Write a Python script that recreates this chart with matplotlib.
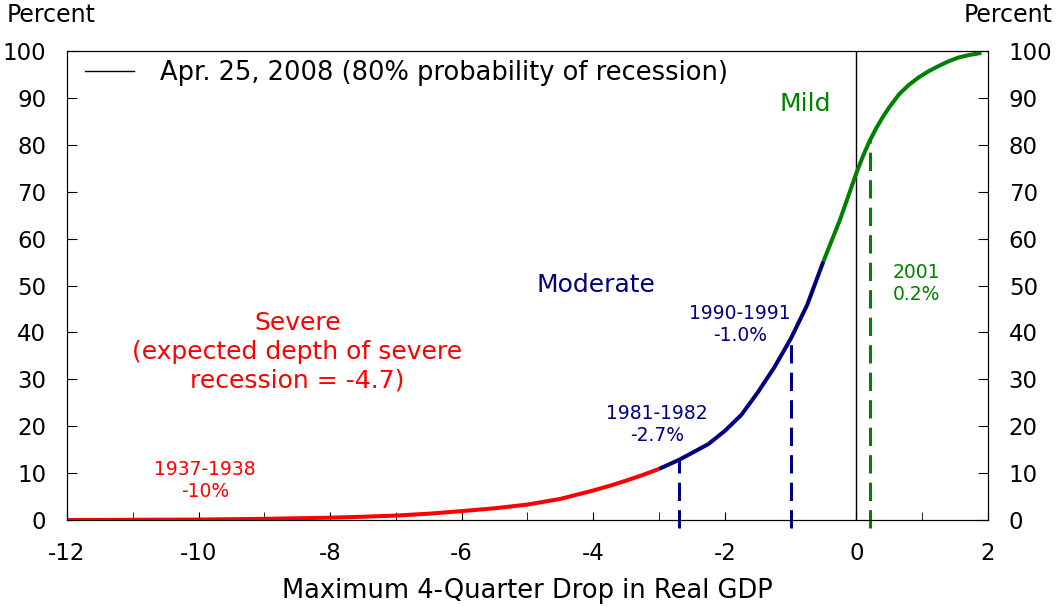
import matplotlib
matplotlib.use('Agg')
import matplotlib.pyplot as plt

plt.rcParams['font.family'] = ['DejaVu Sans']
plt.rcParams['axes.unicode_minus'] = False

# curva de probabilidade acumulada
queda = [-12, -11, -10, -9, -8, -7.5, -7, -6.5, -6, -5.5, -5, -4.5, -4, -3.75, -3.5,
         -3.25, -3, -2.7, -2.5, -2.25, -2, -1.75, -1.5, -1.25, -1, -0.75, -0.5,
         -0.25, -0.1, 0, 0.1, 0.2, 0.3, 0.4, 0.5, 0.65, 0.8, 0.95, 1.1, 1.25,
         1.4, 1.55, 1.7, 1.9]
prob = [0.0, 0.05, 0.1, 0.25, 0.5, 0.7, 0.95, 1.35, 1.9, 2.5, 3.3, 4.5, 6.3, 7.3, 8.4,
        9.6, 10.9, 12.8, 14.3, 16.2, 19.0, 22.4, 27.2, 32.5, 38.6, 45.8, 55.2,
        64.0, 70.0, 74.0, 77.6, 80.8, 83.5, 85.9, 88.0, 90.8, 92.8, 94.4, 95.7, 96.8,
        97.8, 98.6, 99.1, 99.6]

# limites das faixas: severa ate -3, moderada ate -0.5, leve depois
LIMITE_SEVERA = -3.0
LIMITE_MODERADA = -0.5

VERMELHO = '#ff0000'
AZUL = '#000080'
VERDE = '#008000'

# recessoes historicas
eventos_x = [-2.7, -1.0, 0.2]
eventos_y = [12.8, 38.6, 80.8]
eventos_cor = [AZUL, AZUL, VERDE]

fig = plt.figure(figsize=(10.57, 6.07), dpi=100)
ax = fig.add_axes([0.0634, 0.1433, 0.8713, 0.7727])

sev = [(x, y) for x, y in zip(queda, prob) if x <= LIMITE_SEVERA]
mod = [(x, y) for x, y in zip(queda, prob) if LIMITE_SEVERA <= x <= LIMITE_MODERADA]
lev = [(x, y) for x, y in zip(queda, prob) if x >= LIMITE_MODERADA]
for trecho, cor in [(sev, VERMELHO), (mod, AZUL), (lev, VERDE)]:
    ax.plot([p[0] for p in trecho], [p[1] for p in trecho], color=cor,
            linewidth=2.9, solid_capstyle='butt', solid_joinstyle='round', zorder=4)

ax.plot([0, 0], [0, 100], color='black', linewidth=1.0,
        label='Apr. 25, 2008 (80% probability of recession)', zorder=3)

for x, y, c in zip(eventos_x, eventos_y, eventos_cor):
    ax.plot([x, x], [-1.6, y], color=c, linewidth=2.2, linestyle=(0, (6, 3)),
            clip_on=False, zorder=3)

ax.set_xlim(-12, 2)
ax.set_ylim(0, 100)
ax.set_xticks(range(-12, 3, 2))
ax.set_xticks(range(-12, 3), minor=True)
ax.set_yticks(range(0, 101, 10))
ax.tick_params(axis='both', which='both', direction='in', labelsize=16.5)
ax.tick_params(axis='x', which='minor', length=6)
ax.tick_params(axis='x', which='major', length=6, pad=16)
ax.tick_params(axis='y', length=7, pad=15)
ax.set_xlabel('Maximum 4-Quarter Drop in Real GDP', fontsize=18.5, labelpad=9)

ax2 = ax.twinx()
ax2.set_ylim(0, 100)
ax2.set_yticks(range(0, 101, 10))
ax2.tick_params(axis='y', direction='in', labelsize=16.5, length=7, pad=15)

fig.text(0.006, 0.976, 'Percent', fontsize=17, va='center', ha='left')
fig.text(0.996, 0.976, 'Percent', fontsize=17, va='center', ha='right')

ax.legend(loc='upper left', frameon=False, fontsize=18.5, handlelength=1.9,
          handletextpad=1.0, borderaxespad=0.3, bbox_to_anchor=(0.0, 1.02))

# rotulos das faixas
ax.text(-0.78, 88.7, 'Mild', color=VERDE, fontsize=18, ha='center', va='center')
ax.text(-3.96, 50.1, 'Moderate', color=AZUL, fontsize=18, ha='center', va='center')
ax.text(-8.5, 35.8, 'Severe\n(expected depth of severe\nrecession = -4.7)',
        color=VERMELHO, fontsize=18, ha='center', va='center', linespacing=1.25)

# rotulos das recessoes historicas
ax.text(-9.9, 8.5, '1937-1938\n-10%', color=VERMELHO, fontsize=13.5, ha='center', va='center')
ax.text(-3.03, 20.3, '1981-1982\n-2.7%', color=AZUL, fontsize=13.5, ha='center', va='center')
ax.text(-1.77, 41.6, '1990-1991\n-1.0%', color=AZUL, fontsize=13.5, ha='center', va='center')
ax.text(0.55, 50.5, '2001\n0.2%', color=VERDE, fontsize=13.5, ha='left', va='center')

fig.savefig('out.png', dpi=100)
